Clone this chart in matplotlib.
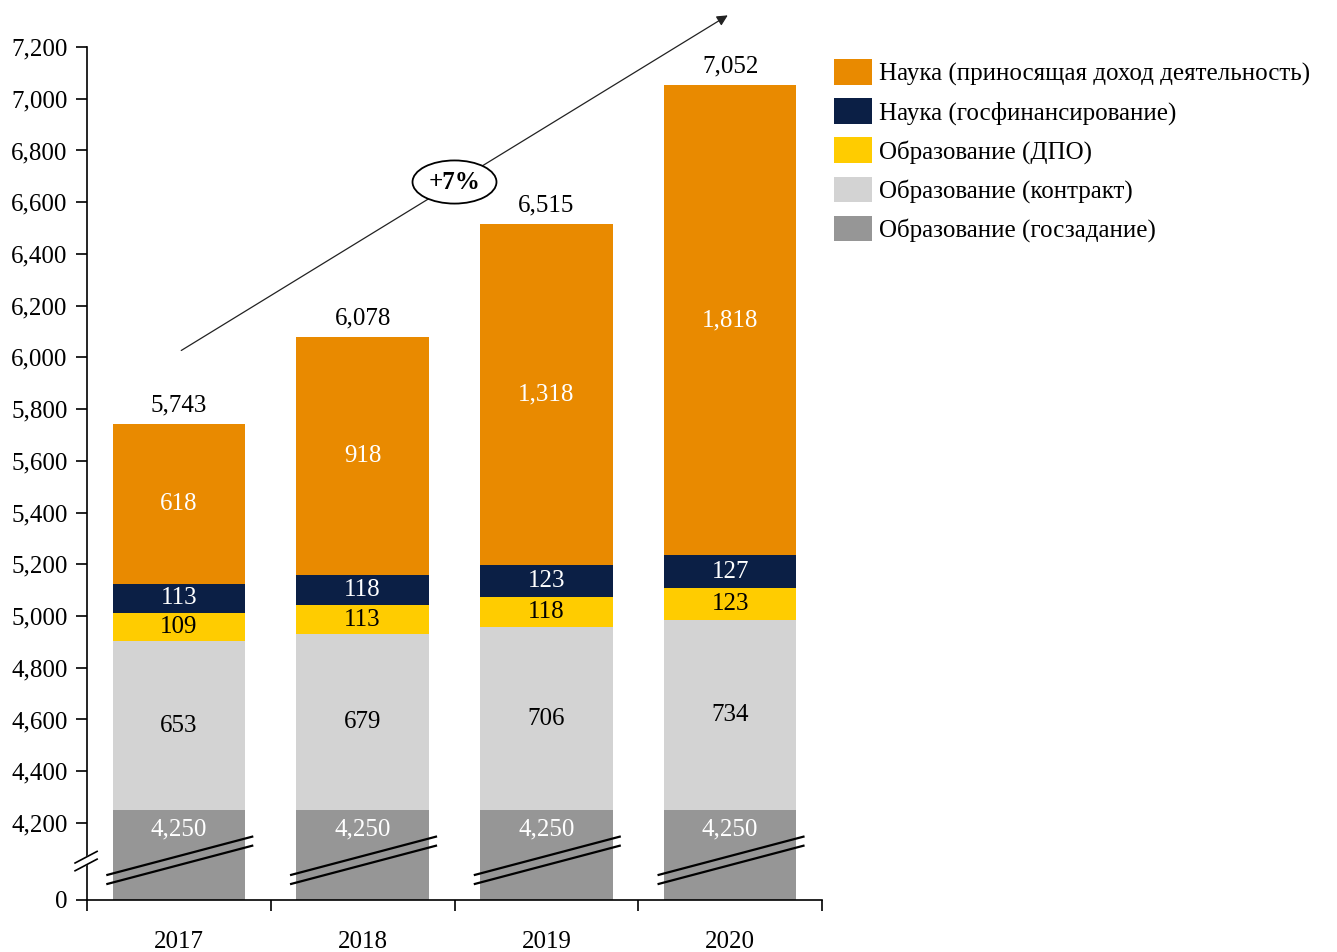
import matplotlib.pyplot as plt
import numpy as np

plt.rcParams['font.family'] = ['Liberation Serif', 'DejaVu Serif']

years = ['2017', '2018', '2019', '2020']
series_names = [
    'Образование (госзадание)',
    'Образование (контракт)',
    'Образование (ДПО)',
    'Наука (госфинансирование)',
    'Наука (приносящая доход деятельность)',
]
gos_zadanie = [4250, 4250, 4250, 4250]
kontrakt = [653, 679, 706, 734]
dpo = [109, 113, 118, 123]
nauka_gos = [113, 118, 123, 127]
nauka_income = [618, 918, 1318, 1818]
growth_label = '+7%'

colors = ['#969696', '#D3D3D3', '#FFCC00', '#0B1F45', '#E98A00']
text_colors = ['white', 'black', 'black', 'white', 'white']

# broken axis: real 0 is drawn at this plot coordinate
BASE = 3902
Y_TOP = 7200

fig = plt.figure(figsize=(13.37, 9.52), dpi=100)
ax = fig.add_axes([87 / 1337, 52 / 952, (822 - 87) / 1337, (900 - 47) / 952])

x = np.arange(len(years))
width = 0.72
data = [gos_zadanie, kontrakt, dpo, nauka_gos, nauka_income]

bottom = np.zeros(len(years))
bars = []
for i, (vals, name) in enumerate(zip(data, series_names)):
    vals = np.array(vals, dtype=float)
    if i == 0:
        b = ax.bar(x, vals - BASE, width, bottom=BASE, color=colors[i], label=name)
        bottom = vals.copy()
        for xi, v in zip(x, vals):
            ax.text(xi, v - 75, f'{int(v):,}', ha='center', va='center',
                    fontsize=18, color=text_colors[i])
    else:
        b = ax.bar(x, vals, width, bottom=bottom, color=colors[i], label=name)
        for xi, v, bt in zip(x, vals, bottom):
            ax.text(xi, bt + v / 2, f'{int(v):,}', ha='center', va='center',
                    fontsize=18, color=text_colors[i])
        bottom = bottom + vals
    bars.append(b)

# totals
for xi, t in zip(x, bottom):
    ax.text(xi, t + 30, f'{int(t):,}', ha='center', va='bottom', fontsize=18)

# break marks across the bars
for xi in x:
    x0, x1 = xi - 0.395, xi + 0.405
    for off in (0, -35):
        ax.plot([x0, x1], [3998 + off, 4148 + off], color='black', lw=1.6,
                solid_capstyle='butt', zorder=4)

# break mark on the y axis
bx0, bx1 = -0.565, -0.445
ax.fill([bx0, bx1, bx1, bx0], [4045, 4090, 4060, 4015], color='white',
        clip_on=False, zorder=5)
for off in (0, -30):
    ax.plot([bx0, bx1], [4045 + off, 4090 + off], color='black', lw=1.2,
            clip_on=False, zorder=6)

# growth arrow
ax.annotate('', xy=(3.0, 7328), xytext=(0.0, 6021),
            arrowprops=dict(arrowstyle='-|>', color='#222222', lw=0.9,
                            mutation_scale=16),
            annotation_clip=False)
ax.text(1.5, 6678, growth_label, ha='center', va='center', fontsize=18,
        fontweight='bold',
        bbox=dict(boxstyle='ellipse,pad=0.15', fc='white', ec='black', lw=1.3))

ax.set_xlim(-0.5, 3.5)
ax.set_ylim(BASE, Y_TOP)
yt = [BASE] + list(range(4200, 7201, 200))
ax.set_yticks(yt)
ax.set_yticklabels(['0'] + [f'{v:,}' for v in range(4200, 7201, 200)], fontsize=18)
ax.set_xticks(x)
ax.set_xticklabels(years, fontsize=18)
ax.set_xticks(np.arange(-0.5, 3.6, 1), minor=True)
ax.tick_params(axis='x', which='major', length=0, pad=22)
ax.tick_params(axis='x', which='minor', length=8, width=1.2, direction='out')
ax.tick_params(axis='y', length=8, width=1.2, direction='out', pad=6)

for s in ['top', 'right']:
    ax.spines[s].set_visible(False)
for s in ['left', 'bottom']:
    ax.spines[s].set_linewidth(1.2)

handles = bars[::-1]
labels = series_names[::-1]
fig.legend(handles, labels, loc='upper left', bbox_to_anchor=(834 / 1337, 1 - 59 / 952),
           frameon=False, fontsize=18, handlelength=1.5, handleheight=1.2,
           handletextpad=0.3, labelspacing=0.5, borderaxespad=0, borderpad=0)

fig.savefig('out.png', dpi=100)
